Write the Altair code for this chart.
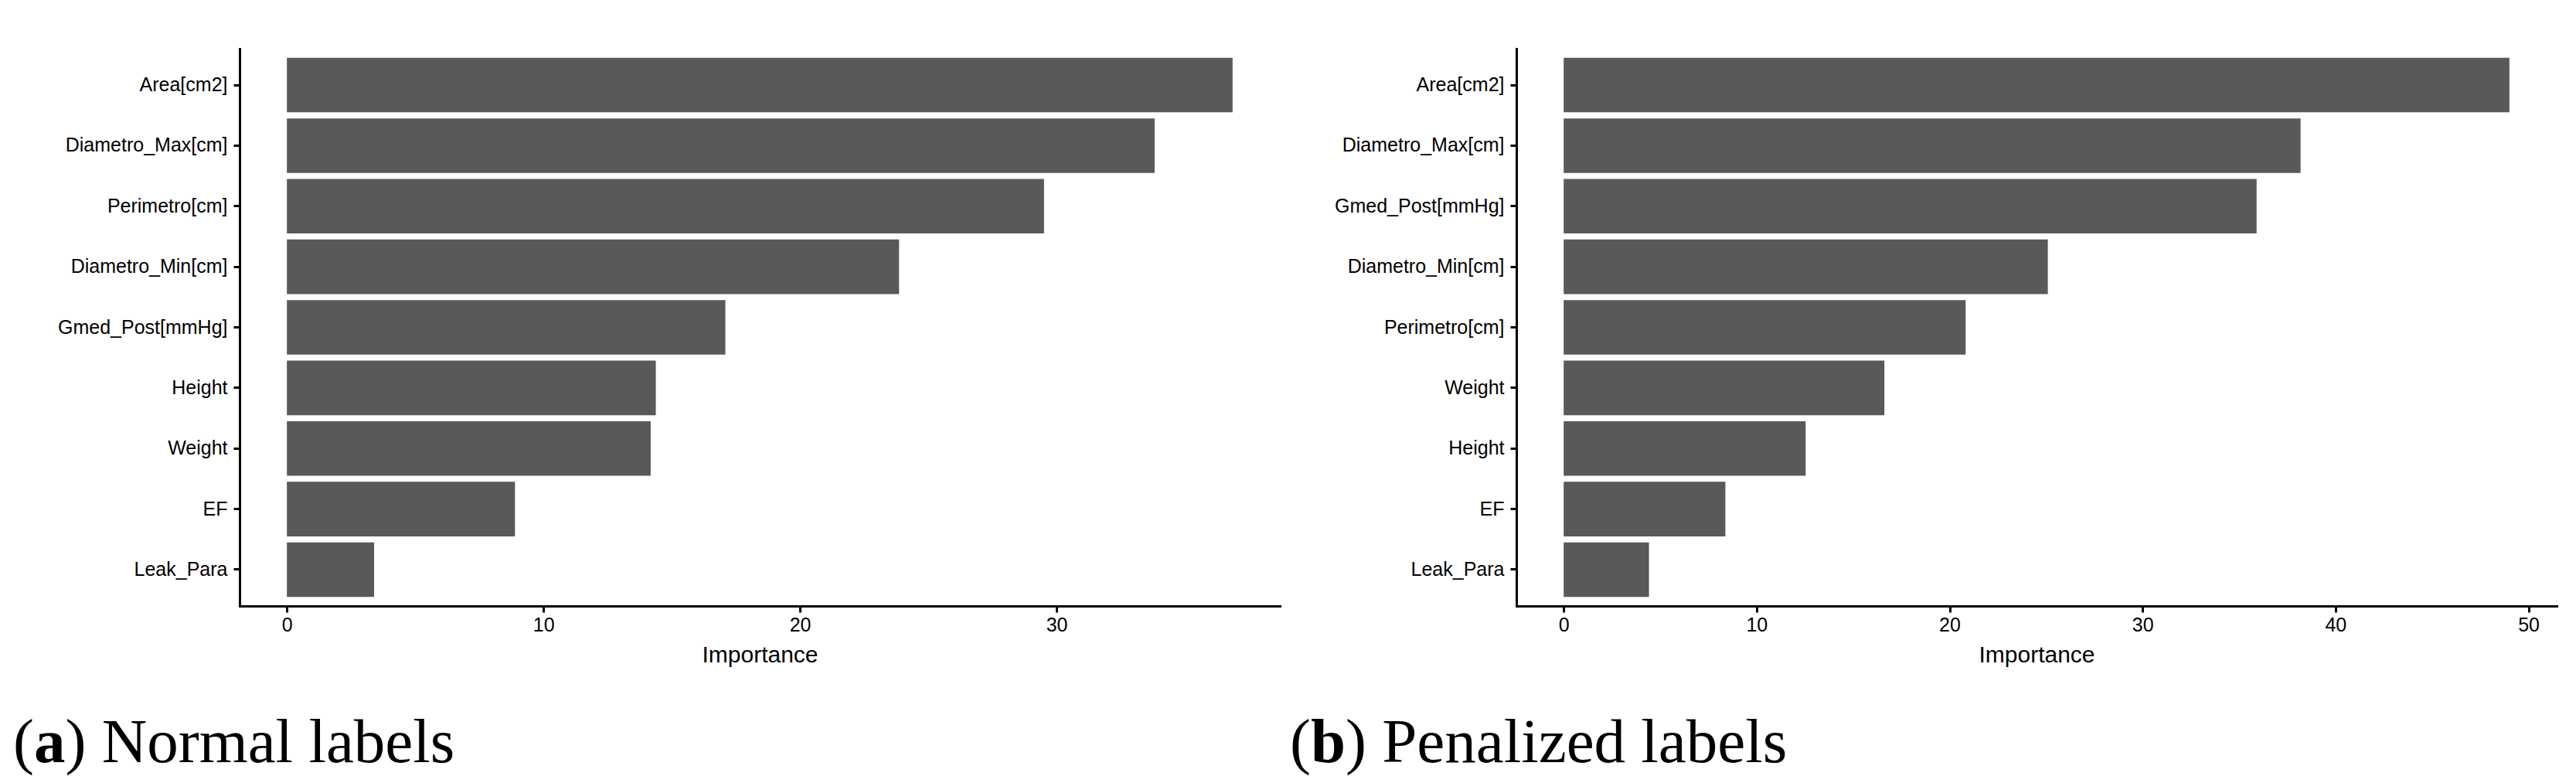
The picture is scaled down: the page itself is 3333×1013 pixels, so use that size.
import altair as alt
import pandas as pd

cats_a = ["Area[cm2]", "Diametro_Max[cm]", "Perimetro[cm]", "Diametro_Min[cm]",
          "Gmed_Post[mmHg]", "Height", "Weight", "EF", "Leak_Para"]
vals_a = [36.86, 33.82, 29.51, 23.86, 17.09, 14.38, 14.18, 8.89, 3.40]

cats_b = ["Area[cm2]", "Diametro_Max[cm]", "Gmed_Post[mmHg]", "Diametro_Min[cm]",
          "Perimetro[cm]", "Weight", "Height", "EF", "Leak_Para"]
vals_b = [49.01, 38.19, 35.91, 25.09, 20.83, 16.62, 12.54, 8.38, 4.42]

ticks_a = [0, 10, 20, 30]
ticks_b = [0, 10, 20, 30, 40, 50]

letters = ["a", "b"]
captions = ["Normal labels", "Penalized labels"]

W, H = 1346, 721
CAP_FONT = "Liberation Serif"
CAP_SIZE = 81


def panel(cats, vals, ticks, letter, caption):
    df = pd.DataFrame({"Feature": cats, "Importance": vals})
    m = max(vals)
    bars = alt.Chart(df).mark_bar(color="#595959").encode(
        x=alt.X("Importance:Q",
                scale=alt.Scale(domain=[-0.05 * m, 1.05 * m], nice=False, zero=False),
                axis=alt.Axis(values=ticks, title="Importance", grid=False)),
        y=alt.Y("Feature:N", sort=cats,
                scale=alt.Scale(paddingInner=0.1, paddingOuter=0.15),
                axis=alt.Axis(title=None, grid=False, labelLimit=0)),
    )
    one = pd.DataFrame({"k": [0]})
    cx = -293
    cy = 923
    t1 = alt.Chart(one).mark_text(text="(", align="left", baseline="alphabetic",
                                  font=CAP_FONT, fontSize=CAP_SIZE, color="black").encode(
        x=alt.value(cx), y=alt.value(cy))
    t2 = alt.Chart(one).mark_text(text=letter, align="left", baseline="alphabetic",
                                  font=CAP_FONT, fontSize=CAP_SIZE, fontWeight="bold",
                                  color="black").encode(
        x=alt.value(cx + 0.333 * CAP_SIZE), y=alt.value(cy))
    t3 = alt.Chart(one).mark_text(text=") " + caption, align="left", baseline="alphabetic",
                                  font=CAP_FONT, fontSize=CAP_SIZE, color="black").encode(
        x=alt.value(cx + 0.333 * CAP_SIZE + (0.5 if letter == "a" else 0.556) * CAP_SIZE),
        y=alt.value(cy))
    return alt.layer(bars, t1, t2, t3).properties(width=W, height=H)


left = panel(cats_a, vals_a, ticks_a, letters[0], captions[0])
right = panel(cats_b, vals_b, ticks_b, letters[1], captions[1])

chart = alt.hconcat(left, right, spacing=13).properties(
    padding={"left": 9, "top": 55, "right": 5, "bottom": 5}
).configure_view(stroke=None).configure_axis(
    domainColor="black", domainWidth=3, domainCap="square",
    tickColor="black", tickWidth=3, tickSize=8,
    labelFont="Liberation Sans", labelFontSize=25, labelColor="black",
    titleFont="Liberation Sans", titleFontSize=30, titleColor="black",
    titleFontWeight="normal",
).configure_axisY(labelPadding=8).configure_axisX(labelPadding=4, titlePadding=11)

chart.save("out.html", embed_options={"renderer": "svg", "actions": False})
